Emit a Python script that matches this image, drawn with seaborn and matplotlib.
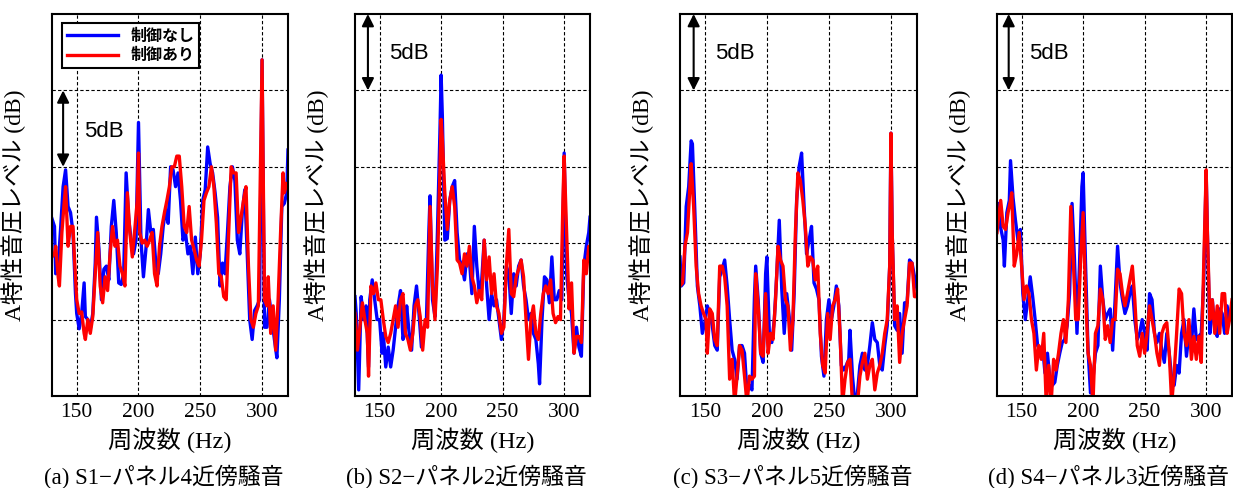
import matplotlib
matplotlib.use('Agg')
import matplotlib.pyplot as plt
import seaborn as sns
import pandas as pd

# (a) S1 - panel 4
freq_a_off = [130, 132, 133, 135, 137, 139, 141, 143, 145, 147, 149, 150, 152, 154, 156, 157, 159, 161, 163, 165,
              166, 168, 170, 172, 174, 176, 178, 180, 182, 184, 186, 188, 190, 192, 194, 196, 198, 200, 202, 204,
              206, 208, 210, 212, 214, 216, 218, 220, 222, 224, 226, 228, 230, 232, 234, 236, 238, 240, 242, 244,
              246, 248, 250, 252, 254, 256, 258, 260, 262, 264, 266, 268, 270, 272, 274, 276, 278, 280, 282, 284,
              286, 288, 290, 292, 294, 296, 298, 300, 302, 304, 306, 308, 310, 312, 314, 316, 318, 320, 321]
lvl_a_off = [11.6, 11.1, 8.0, 8.5, 11.0, 13.7, 14.8, 12.4, 12.0, 10.7, 6.7, 5.4, 4.4, 5.4, 7.4, 5.2, 5.0, 4.4, 5.4, 8.7,
             11.7, 9.6, 6.3, 8.3, 8.5, 7.6, 11.1, 12.8, 10.7, 7.4, 7.3, 8.0, 14.6, 11.7, 10.2, 9.3, 10.2, 17.9, 10.2, 7.8,
             9.6, 12.2, 10.7, 10.9, 8.7, 8.0, 9.3, 11.1, 12.2, 11.3, 15.0, 14.8, 13.7, 14.6, 12.8, 10.2, 10.7, 9.3, 9.8, 8.0,
             10.4, 8.0, 9.3, 12.8, 13.5, 16.3, 15.2, 14.6, 13.3, 11.7, 7.2, 8.7, 8.0, 10.7, 13.7, 15.0, 14.1, 10.2, 9.3, 12.0,
             13.5, 9.3, 5.0, 3.7, 5.6, 5.9, 6.3, 22.0, 4.5, 4.5, 6.3, 5.0, 3.7, 2.5, 6.3, 12.4, 12.6, 13.3, 16.1]
freq_a_on = [130, 132, 133, 135, 136, 138, 140, 141, 143, 145, 147, 148, 150, 152, 154, 156, 157, 159, 161, 163,
             165, 167, 169, 171, 173, 175, 177, 179, 181, 183, 185, 187, 189, 191, 193, 195, 197, 199, 200, 201,
             203, 205, 207, 209, 211, 213, 215, 217, 219, 221, 223, 225, 227, 229, 231, 233, 235, 237, 239, 241,
             243, 245, 247, 249, 251, 253, 255, 257, 259, 261, 263, 265, 267, 269, 271, 273, 275, 277, 279, 281,
             283, 285, 287, 289, 291, 293, 295, 297, 300, 302, 304, 305, 307, 309, 311, 313, 315, 317, 318, 320]
lvl_a_on = [9.1, 9.3, 9.8, 7.8, 7.2, 10.7, 12.8, 13.7, 9.8, 11.1, 11.1, 9.3, 6.3, 5.4, 5.5, 4.1, 3.7, 5.0, 4.1, 5.2,
            8.0, 10.7, 7.2, 6.1, 7.8, 6.9, 9.3, 11.1, 9.8, 10.2, 8.5, 8.0, 7.2, 13.3, 10.7, 9.1, 10.9, 12.8, 15.9, 10.7,
            10.0, 10.2, 9.8, 10.2, 10.7, 8.0, 7.2, 9.8, 11.1, 12.0, 12.8, 13.7, 15.0, 15.0, 15.7, 15.7, 13.7, 11.1, 10.7, 12.4,
            10.2, 9.6, 8.9, 8.5, 10.2, 12.8, 13.3, 13.7, 15.0, 13.7, 11.3, 8.0, 7.8, 6.5, 6.3, 10.7, 15.0, 14.6, 14.6, 10.7,
            11.7, 12.8, 13.7, 8.5, 5.0, 4.5, 5.4, 5.9, 22.0, 6.3, 5.9, 7.8, 4.1, 5.9, 3.0, 6.3, 10.7, 14.6, 13.3, 13.9]

# (b) S2 - panel 2
freq_b_off = [130, 131, 133, 135, 137, 139, 141, 142, 144, 146, 148, 150, 152, 153, 155, 157, 159, 161, 163, 165,
              167, 169, 171, 172, 174, 176, 178, 180, 182, 184, 186, 188, 190, 191, 193, 195, 197, 199, 200, 201,
              203, 205, 207, 209, 211, 213, 215, 217, 219, 221, 223, 225, 227, 229, 231, 233, 235, 237, 239, 241,
              243, 245, 247, 249, 251, 253, 255, 257, 259, 261, 263, 265, 267, 269, 271, 273, 275, 277, 279, 280,
              282, 284, 286, 288, 290, 292, 294, 296, 298, 300, 302, 304, 306, 308, 310, 312, 314, 316, 318, 320, 321]
lvl_b_off = [6.5, 5.4, 0.4, 6.5, 5.0, 5.9, 1.9, 6.3, 7.6, 6.3, 5.0, 5.0, 2.8, 4.1, 1.9, 3.2, 1.9, 3.0, 4.5, 5.9,
             6.9, 3.7, 4.5, 5.9, 4.1, 3.0, 5.9, 7.2, 5.4, 3.2, 4.5, 4.8, 10.7, 13.1, 6.3, 5.2, 10.7, 17.2, 21.0, 18.3,
             10.2, 10.3, 12.8, 13.7, 14.1, 10.7, 8.9, 8.5, 7.6, 9.3, 8.9, 6.7, 11.1, 8.5, 6.7, 7.6, 10.2, 7.2, 5.0, 6.7,
             5.9, 6.3, 5.0, 3.7, 5.0, 8.5, 8.0, 5.4, 8.0, 7.2, 8.5, 8.9, 7.2, 6.3, 5.0, 5.4, 4.1, 3.7, 2.1, 0.8,
             5.0, 7.8, 7.6, 6.1, 9.1, 6.3, 6.3, 6.9, 6.3, 15.9, 8.0, 6.3, 5.4, 2.8, 4.5, 3.2, 2.6, 8.5, 9.8, 10.7, 11.7]
freq_b_on = [130, 132, 134, 136, 138, 140, 141, 143, 145, 147, 149, 151, 153, 155, 157, 159, 161, 163, 165, 167,
             169, 171, 173, 175, 177, 179, 181, 183, 185, 187, 189, 191, 193, 195, 197, 199, 200, 201, 203, 205,
             207, 209, 211, 213, 215, 217, 219, 221, 223, 225, 227, 229, 231, 233, 235, 237, 239, 241, 243, 245,
             247, 249, 251, 253, 255, 257, 259, 261, 263, 265, 267, 269, 271, 273, 275, 277, 279, 281, 283, 285,
             287, 289, 291, 293, 295, 297, 299, 300, 302, 304, 306, 308, 310, 312, 314, 316, 318, 320, 321]
lvl_b_on = [5.4, 3.0, 4.5, 6.1, 5.0, 4.1, 1.3, 7.2, 6.7, 7.4, 6.3, 6.3, 5.0, 3.9, 3.5, 4.1, 5.0, 5.9, 4.5, 6.3,
            6.7, 4.1, 3.7, 3.0, 4.1, 5.9, 6.3, 5.2, 3.0, 5.0, 4.5, 12.4, 7.2, 5.0, 8.5, 14.6, 18.1, 16.8, 13.3, 10.9,
            12.8, 13.7, 12.4, 8.9, 8.7, 8.0, 9.3, 8.5, 9.8, 7.8, 7.2, 6.1, 6.9, 6.3, 10.2, 7.6, 9.1, 6.7, 8.0, 5.9,
            5.4, 4.1, 4.5, 8.5, 10.9, 6.7, 6.5, 7.8, 8.3, 8.9, 7.8, 5.0, 2.4, 5.0, 5.9, 4.1, 3.7, 5.4, 6.7, 7.2,
            6.7, 7.6, 5.4, 4.8, 5.2, 5.0, 12.8, 15.7, 10.7, 5.7, 7.4, 2.8, 3.9, 3.9, 3.5, 8.9, 8.0, 9.8, 9.8]

# (c) S3 - panel 5
freq_c_off = [130, 131, 133, 135, 137, 139, 140, 142, 144, 146, 148, 150, 152, 154, 156, 158, 160, 162, 164, 166,
              168, 170, 172, 174, 176, 178, 180, 182, 184, 186, 188, 190, 191, 193, 195, 197, 199, 200, 202, 204,
              206, 208, 210, 212, 214, 216, 218, 220, 222, 224, 226, 228, 230, 232, 234, 236, 238, 240, 242, 244,
              246, 248, 250, 252, 254, 256, 258, 260, 262, 264, 266, 267, 269, 271, 273, 275, 277, 279, 281, 283,
              285, 287, 289, 291, 293, 295, 297, 299, 300, 301, 303, 305, 307, 309, 311, 313, 315, 317, 319, 321]
lvl_c_off = [9.1, 7.2, 7.4, 12.4, 13.7, 16.7, 16.5, 12.0, 7.2, 5.9, 4.1, 4.8, 5.9, 5.4, 4.6, 3.3, 3.0, 7.8, 8.3, 8.9,
             7.2, 5.0, 3.0, 2.4, 1.1, 3.3, 3.3, 2.8, 0.2, 0.7, 0.4, 6.5, 8.5, 6.3, 2.8, 2.2, 8.0, 9.1, 4.1, 3.5,
             5.0, 8.0, 11.5, 7.0, 4.1, 6.7, 5.2, 3.0, 6.7, 12.8, 15.0, 15.9, 12.4, 9.3, 10.2, 11.1, 7.4, 7.0, 6.3, 2.6,
             1.3, 5.0, 6.3, 5.0, 5.9, 7.2, 5.9, 2.0, 1.7, 2.0, 2.4, 4.3, 1.3, -0.5, 0.2, 2.0, 2.8, 1.7, 2.0, 3.3,
             4.8, 3.7, 3.5, 2.0, 1.7, 3.3, 4.6, 8.5, 17.2, 10.7, 4.6, 4.3, 5.4, 2.8, 6.1, 6.1, 8.9, 8.7, 7.8, 7.0]
freq_c_on = [130, 132, 134, 136, 138, 139, 141, 143, 145, 147, 149, 151, 152, 154, 156, 158, 160, 162, 164, 166,
             168, 170, 172, 174, 176, 178, 180, 182, 184, 186, 188, 190, 191, 193, 195, 197, 199, 201, 203, 205,
             207, 209, 211, 213, 215, 217, 219, 221, 223, 225, 227, 229, 231, 233, 235, 237, 239, 241, 243, 245,
             247, 249, 251, 253, 255, 257, 259, 261, 263, 265, 267, 269, 271, 273, 275, 277, 279, 281, 283, 285,
             287, 289, 291, 293, 295, 297, 299, 300, 301, 303, 305, 307, 309, 311, 313, 315, 317, 319, 321]
lvl_c_on = [7.2, 7.4, 9.8, 10.7, 13.7, 15.2, 12.4, 8.5, 6.7, 5.9, 5.4, 5.0, 2.8, 5.7, 5.4, 3.7, 3.3, 8.5, 8.5, 7.8,
            5.9, 1.1, 2.4, -0.5, 1.3, 3.3, 3.0, 1.3, -0.5, 1.3, 1.1, 1.3, 8.0, 5.9, 2.8, 2.6, 6.7, 2.8, 4.1, 3.7,
            6.3, 9.8, 8.9, 8.5, 6.3, 5.9, 3.0, 5.0, 10.7, 14.6, 14.1, 12.8, 11.1, 8.5, 9.1, 8.9, 7.6, 8.5, 4.1, 2.0,
            1.5, 5.4, 3.7, 5.9, 6.3, 7.0, 4.1, -0.5, 1.1, 2.2, 2.4, -0.5, -0.5, -0.5, 1.3, 2.2, 2.8, 1.1, 2.0, 2.4,
            0.4, 1.5, 2.0, 2.8, 4.1, 5.0, 8.5, 17.2, 10.7, 5.0, 5.9, 2.2, 4.1, 5.0, 5.9, 8.7, 8.7, 6.5, 6.5]

# (d) S4 - panel 3
freq_d_off = [130, 131, 133, 135, 136, 138, 140, 141, 143, 145, 147, 149, 151, 153, 155, 157, 159, 161, 163, 165,
              167, 169, 171, 173, 175, 177, 179, 181, 183, 185, 187, 189, 191, 193, 195, 197, 199, 200, 202, 204,
              206, 208, 210, 212, 214, 216, 218, 220, 222, 224, 226, 228, 230, 232, 234, 236, 238, 240, 242, 244,
              246, 248, 250, 252, 254, 256, 258, 260, 262, 264, 266, 268, 270, 272, 274, 276, 278, 280, 282, 284,
              286, 288, 290, 292, 294, 296, 298, 300, 301, 303, 305, 307, 309, 311, 313, 315, 317, 319, 321]
lvl_d_off = [12.0, 12.6, 11.0, 10.2, 8.5, 12.0, 12.8, 15.4, 13.0, 11.5, 10.2, 10.9, 6.7, 5.0, 6.3, 7.8, 6.5, 5.0, 3.3, 3.0,
             3.3, 1.5, 2.8, 1.1, 0.7, 0.9, 2.0, 2.8, 3.5, 3.7, 4.6, 6.7, 12.6, 8.9, 4.1, 8.5, 13.7, 14.6, 8.5, 3.0,
             0.2, 1.1, 2.8, 3.3, 8.5, 6.3, 5.0, 5.4, 5.7, 3.0, 6.3, 9.8, 7.4, 6.3, 5.4, 5.9, 6.7, 7.2, 5.0, 3.7,
             4.1, 5.0, 4.1, 3.0, 6.7, 6.3, 4.1, 3.5, 4.1, 3.0, 2.2, 4.1, 2.8, 1.1, 0.7, 2.0, 1.5, 4.1, 5.0, 2.6,
             4.1, 3.3, 5.7, 3.7, 3.9, 4.1, 7.4, 14.6, 10.7, 4.1, 6.3, 4.3, 3.9, 5.7, 5.4, 4.1, 5.9, 5.0, 5.4]
freq_d_on = [130, 131, 133, 135, 137, 139, 141, 142, 144, 146, 148, 150, 152, 154, 156, 158, 160, 162, 164, 166,
             168, 170, 172, 174, 176, 178, 180, 182, 184, 186, 188, 190, 192, 194, 196, 198, 200, 202, 204, 206,
             208, 210, 212, 214, 216, 218, 220, 222, 224, 226, 228, 230, 232, 234, 236, 238, 240, 242, 244, 246,
             248, 250, 252, 254, 256, 258, 260, 262, 264, 266, 268, 270, 272, 274, 276, 278, 280, 282, 284, 286,
             288, 290, 292, 294, 296, 298, 300, 301, 303, 305, 307, 309, 311, 313, 315, 317, 319, 321]
lvl_d_on = [10.7, 11.5, 12.8, 11.1, 10.9, 12.0, 12.8, 13.3, 8.5, 9.3, 10.7, 8.5, 6.3, 7.2, 6.7, 5.0, 4.1, 1.7, 3.3, 2.4,
            4.1, -0.5, 2.0, -0.5, 2.4, 1.7, 2.8, 4.1, 5.0, 3.5, 6.3, 12.4, 8.9, 5.0, 5.0, 8.9, 12.0, 6.7, 2.8, 2.0,
            -0.5, 4.1, 4.6, 7.0, 6.3, 3.7, 4.6, 3.5, 5.0, 5.0, 8.3, 8.0, 6.7, 5.9, 6.7, 7.6, 8.5, 6.3, 3.3, 2.6,
            4.1, 2.8, 4.1, 5.9, 5.0, 4.1, 2.8, 2.0, 4.1, 4.6, 4.8, 2.8, -0.5, 1.5, 4.1, 7.0, 6.7, 4.1, 3.3, 5.0,
            2.4, 3.9, 2.4, 3.9, 2.2, 8.5, 14.8, 10.7, 5.0, 6.3, 4.1, 5.9, 4.1, 6.7, 6.7, 4.1, 5.0, 6.3]

captions = ['(a) S1−パネル4近傍騒音', '(b) S2−パネル2近傍騒音', '(c) S3−パネル5近傍騒音', '(d) S4−パネル3近傍騒音']
x_ticks = [150, 200, 250, 300]
legend_labels = ['制御なし', '制御あり']

plt.rcParams['font.family'] = ['Liberation Serif', 'Noto Sans CJK JP']

W, H = 1233, 488
fig = plt.figure(figsize=(W / 100, H / 100), dpi=100)

# left px, width px, arrow x (Hz), arrow span (dB), text pos
layout = [
    (52, 236, 139, (15, 20), (156, 17.3)),
    (355, 235, 140.5, (20, 25), (158, 22.4)),
    (680, 237, 141, (20, 25), (158, 22.4)),
    (997, 235, 139.5, (20, 25), (156, 22.4)),
]
series = [
    (freq_a_off, lvl_a_off, freq_a_on, lvl_a_on),
    (freq_b_off, lvl_b_off, freq_b_on, lvl_b_on),
    (freq_c_off, lvl_c_off, freq_c_on, lvl_c_on),
    (freq_d_off, lvl_d_off, freq_d_on, lvl_d_on),
]

for i, ((left, width, ax_x, span, tpos), (f0, l0, f1, l1)) in enumerate(zip(layout, series)):
    ax = fig.add_axes([left / W, 92 / H, width / W, 382 / H])
    df_off = pd.DataFrame({'freq': f0, 'level': l0})
    df_on = pd.DataFrame({'freq': f1, 'level': l1})
    sns.lineplot(data=df_off, x='freq', y='level', ax=ax, color='#0000ff', lw=2.4,
                 estimator=None, sort=False, label=legend_labels[0] if i == 0 else None, legend=(i == 0))
    sns.lineplot(data=df_on, x='freq', y='level', ax=ax, color='#ff0000', lw=2.4,
                 estimator=None, sort=False, label=legend_labels[1] if i == 0 else None, legend=(i == 0))

    ax.set_xlim(130, 321)
    ax.set_ylim(0, 25)
    ax.set_xticks(x_ticks)
    ax.set_yticks([5, 10, 15, 20])
    ax.set_yticklabels([])
    ax.tick_params(axis='both', length=0, labelsize=15.5, pad=5)
    ax.grid(True, color='black', ls=(0, (3, 2)), lw=0.8)
    ax.set_axisbelow(True)
    for s in ax.spines.values():
        s.set_color('black')
        s.set_linewidth(1.5)

    ax.set_xlabel('周波数 (Hz)', fontsize=17.5, labelpad=4)
    ax.set_ylabel('A特性音圧レベル (dB)', fontsize=17, labelpad=14)

    ax.annotate('', xy=(ax_x, span[1]), xytext=(ax_x, span[0]),
                arrowprops=dict(arrowstyle='<|-|>', color='black', lw=1.5,
                                mutation_scale=18, shrinkA=0, shrinkB=0))
    ax.text(tpos[0], tpos[1], '5dB', ha='left', va='center', fontsize=16,
            family=['Liberation Sans', 'DejaVu Sans'])

    fig.text((left + width / 2 - 6) / W, 23 / H, captions[i], ha='center', va='top', fontsize=16.5)

    if i == 0:
        leg = ax.legend(loc='upper left', bbox_to_anchor=(0.042, 0.976), borderaxespad=0,
                        fancybox=False, edgecolor='black', framealpha=1, handlelength=3.2,
                        prop={'family': 'Noto Sans CJK JP', 'weight': 'bold', 'size': 11.5},
                        borderpad=0.3, labelspacing=0.2, handletextpad=0.8)
        leg.get_frame().set_linewidth(1.5)

fig.savefig('out.png', dpi=100)
